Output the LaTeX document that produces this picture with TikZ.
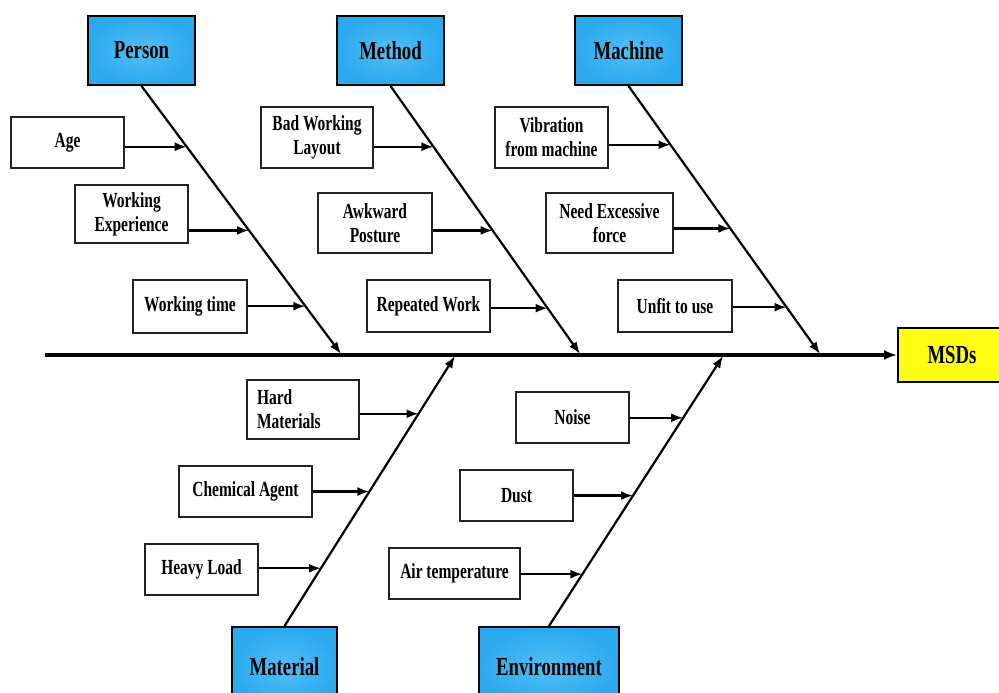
\documentclass[tikz,border=0pt]{standalone}
\usepackage{fontspec}
\setmainfont{Liberation Serif}[FakeStretch=0.72]
\usetikzlibrary{arrows.meta,calc}
\definecolor{catblue}{HTML}{2AA9EE}
\definecolor{catbluelight}{HTML}{52BFF6}
\definecolor{msdyellow}{HTML}{FFFF14}
\definecolor{boxline}{HTML}{222222}
\begin{document}
\begin{tikzpicture}[x=1pt,y=-1pt,
  catbox/.style={draw=black, line width=2pt, shading=radial,
    inner color=catbluelight, outer color=catblue, inner sep=0pt,
    font=\fontsize{26}{30}\selectfont\bfseries},
  cause/.style={draw=boxline, line width=1.7pt, fill=white, align=center,
    inner sep=0pt, font=\fontsize{21.5}{24}\selectfont\bfseries},
  effect/.style={draw=black, line width=2pt, fill=msdyellow, inner sep=0pt,
    font=\fontsize{26}{30}\selectfont\bfseries},
  bone/.style={line width=2.2pt, -{Latex[length=12pt,width=9pt]}},
  feed/.style={line width=2.2pt, -{Latex[length=12pt,width=9pt]}},
  spine/.style={line width=3.2pt, -{Latex[length=13pt,width=10pt]}}]
\useasboundingbox (0,0) rectangle (999,693);
\clip (0,0) rectangle (999,693);

% effect box
\node[effect, minimum width=108pt, minimum height=54pt] (msd) at (952,355) {MSDs};

% category boxes
\node[catbox, minimum width=107pt, minimum height=69pt] (person)  at (141.5,50.5) {Person};
\node[catbox, minimum width=107pt, minimum height=69pt] (method)  at (390.5,50.5) {Method};
\node[catbox, minimum width=107pt, minimum height=69pt] (machine) at (628.5,50.5) {Machine};
\node[catbox, minimum width=105pt, minimum height=80pt] (material) at (284.5,667) {Material};
\node[catbox, minimum width=140pt, minimum height=80pt] (environ)  at (549,667) {Environment};

% spine and bones
\coordinate (tail) at (45,355);
\draw[spine] (tail) -- (msd.west);
\coordinate (pe) at (341,354);
\coordinate (me) at (580,354);
\coordinate (ce) at (820,354);
\coordinate (te) at (455,356);
\coordinate (ee) at (723,356);
\draw[bone] (person.south) -- (pe);
\draw[bone] (method.south) -- (me);
\draw[bone] (machine.south) -- (ce);
\draw[bone] (material.north) -- (te);
\draw[bone] (environ.north) -- (ee);

% cause boxes
\node[cause, minimum width=113pt, minimum height=51pt] (age)   at (67.5,142.5) {Age};
\node[cause, minimum width=113pt, minimum height=58pt] (wexp)  at (131.5,214) {Working\\Experience};
\node[cause, minimum width=114pt, minimum height=53pt] (wtime) at (190,306.5) {Working time};
\node[cause, minimum width=112pt, minimum height=61pt] (layout) at (317,137.5) {Bad Working\\Layout};
\node[cause, minimum width=114pt, minimum height=60pt] (posture) at (375,223) {Awkward\\Posture};
\node[cause, minimum width=123pt, minimum height=52pt] (repeat) at (428.5,306) {Repeated Work};
\node[cause, minimum width=113pt, minimum height=61pt] (vibr)  at (551.5,137.5) {Vibration\\from machine};
\node[cause, minimum width=127pt, minimum height=60pt] (force) at (609.5,223) {Need Excessive\\force};
\node[cause, minimum width=114pt, minimum height=52pt] (unfit) at (675,306) {Unfit to use};
\node[cause, align=left, text width=92pt, inner xsep=10pt, minimum height=59pt] (hard) at (303,409.5) {Hard\\Materials};
\node[cause, minimum width=133pt, minimum height=51pt] (chem)  at (245.5,491.5) {Chemical Agent};
\node[cause, minimum width=113pt, minimum height=51pt] (heavy) at (201.5,569.5) {Heavy Load};
\node[cause, minimum width=113pt, minimum height=51pt] (noise) at (572.5,417.5) {Noise};
\node[cause, minimum width=113pt, minimum height=51pt] (dust)  at (516.5,495.5) {Dust};
\node[cause, minimum width=131pt, minimum height=51pt] (air)   at (454.5,573.5) {Air temperature};

% points where the cause arrows meet the bones
\coordinate (p1) at ($(person.south)!0.2268!(pe)$);
\coordinate (p2) at ($(person.south)!0.5390!(pe)$);
\coordinate (p3) at ($(person.south)!0.8216!(pe)$);
\coordinate (m1) at ($(method.south)!0.2268!(me)$);
\coordinate (m2) at ($(method.south)!0.5390!(me)$);
\coordinate (m3) at ($(method.south)!0.8290!(me)$);
\coordinate (c1) at ($(machine.south)!0.2193!(ce)$);
\coordinate (c2) at ($(machine.south)!0.5316!(ce)$);
\coordinate (c3) at ($(machine.south)!0.8253!(ce)$);
\coordinate (t1) at ($(material.north)!0.786!(te)$);
\coordinate (t2) at ($(material.north)!0.498!(te)$);
\coordinate (t3) at ($(material.north)!0.214!(te)$);
\coordinate (e1) at ($(environ.north)!0.771!(ee)$);
\coordinate (e2) at ($(environ.north)!0.483!(ee)$);
\coordinate (e3) at ($(environ.north)!0.192!(ee)$);

% cause arrows
\draw[feed] (age.east |- p1) -- (p1);
\draw[feed] (wexp.east |- p2) -- (p2);
\draw[feed] (wtime.east |- p3) -- (p3);
\draw[feed] (layout.east |- m1) -- (m1);
\draw[feed] (posture.east |- m2) -- (m2);
\draw[feed] (repeat.east |- m3) -- (m3);
\draw[feed] (vibr.east |- c1) -- (c1);
\draw[feed] (force.east |- c2) -- (c2);
\draw[feed] (unfit.east |- c3) -- (c3);
\draw[feed] (hard.east |- t1) -- (t1);
\draw[feed] (chem.east |- t2) -- (t2);
\draw[feed] (heavy.east |- t3) -- (t3);
\draw[feed] (noise.east |- e1) -- (e1);
\draw[feed] (dust.east |- e2) -- (e2);
\draw[feed] (air.east |- e3) -- (e3);
\end{tikzpicture}
\end{document}
